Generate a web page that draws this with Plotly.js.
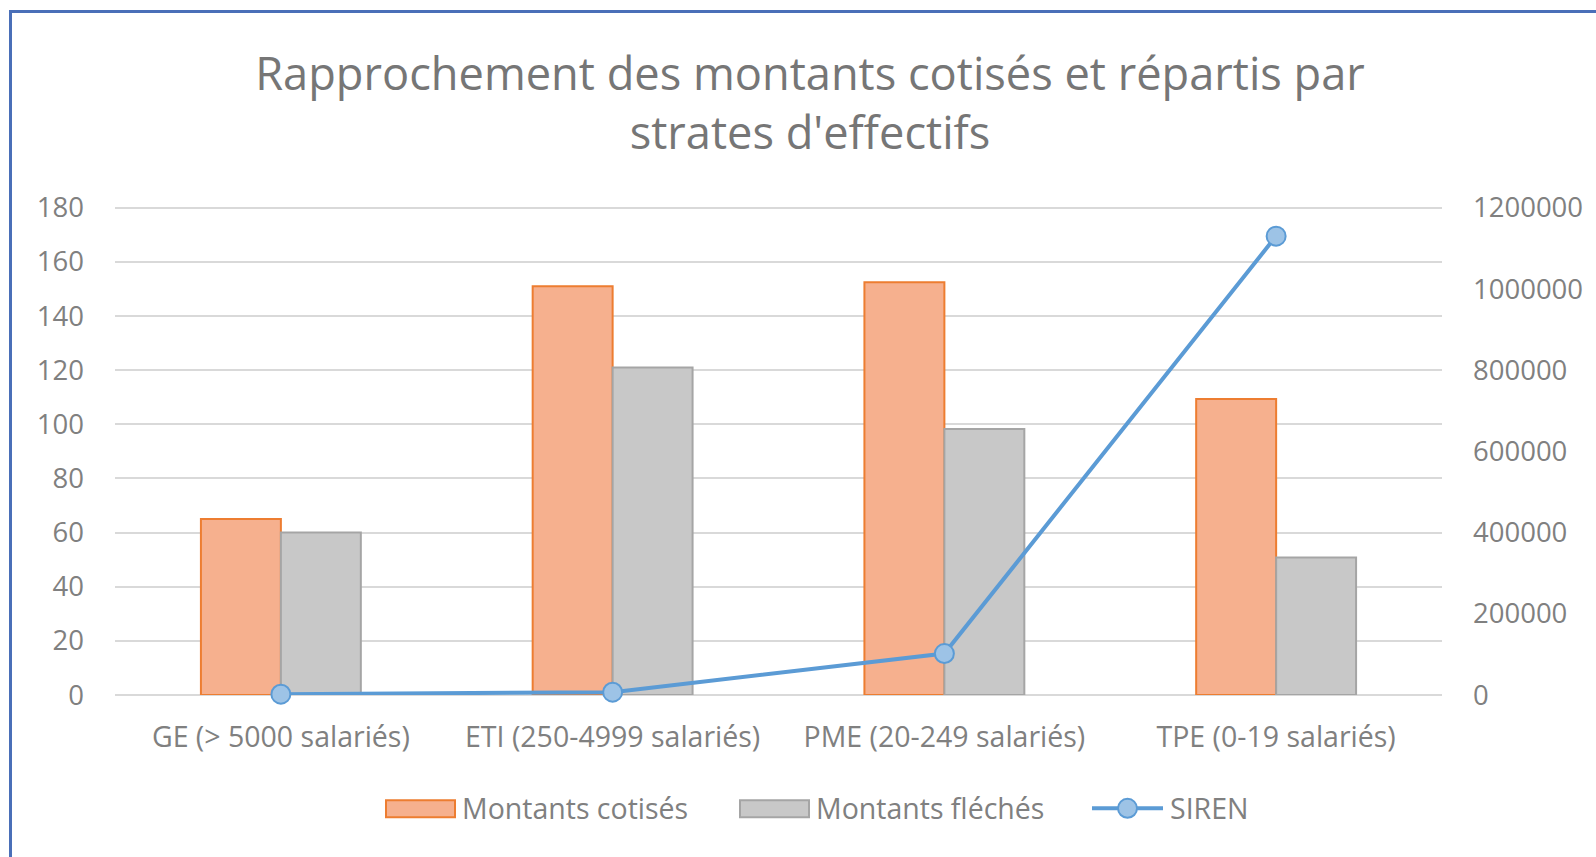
<!DOCTYPE html>
<html>
<head>
<meta charset="utf-8">
<script src="https://cdn.plot.ly/plotly-3.0.1.min.js"></script>
<style>
  html, body { margin:0; padding:0; background:#fff; overflow:hidden; }
  #frame { position:absolute; left:9px; top:10px; width:1700px; height:1000px; border-left:3px solid #4a6fb8; border-top:3px solid #4a6fb8; box-sizing:border-box; pointer-events:none; z-index:5; }
  #chart { position:absolute; left:0; top:0; width:1596px; height:857px; }
</style>
</head>
<body>
<div id="chart"></div>
<div id="frame"></div>
<script>
const categories = ["GE (> 5000 salariés)", "ETI (250-4999 salariés)", "PME (20-249 salariés)", "TPE (0-19 salariés)"];
const montantsCotises = [65, 151, 152.5, 109.3];
const montantsFleches = [60, 121, 98.3, 50.8];
const siren = [2000, 7000, 102000, 1130000];
const leftTicks = [0, 20, 40, 60, 80, 100, 120, 140, 160, 180];
const rightTicks = [0, 200000, 400000, 600000, 800000, 1000000, 1200000];
const seriesNames = ["Montants cotisés", "Montants fléchés", "SIREN"];

const W = 1596, H = 857;
const yMax = 181, y2Max = 1200000 * yMax / 180;
const ml = 115, mr = 154, mt = 204.6, mb = 161.5;
const pw = W - ml - mr, ph = H - mt - mb;
const px = x => (x - ml) / pw;       // page px -> paper x
const py = y => (H - mb - y) / ph;   // page px -> paper y

const grey = '#808080';
const tickFont = {family: 'Open Sans, sans-serif', size: 27.5, color: grey};
const catFont = {family: 'Open Sans, sans-serif', size: 28.5, color: grey};

const traces = [
  {type:'bar', name: seriesNames[0], x: categories, y: montantsCotises,
   marker:{color:'#f6b08e', line:{color:'#ed7d31', width:2}}, showlegend:false, hoverinfo:'y'},
  {type:'bar', name: seriesNames[1], x: categories, y: montantsFleches,
   marker:{color:'#c8c8c8', line:{color:'#a5a5a5', width:2}}, showlegend:false, hoverinfo:'y'},
  {type:'scatter', mode:'lines+markers', name: seriesNames[2], x: categories, y: siren, yaxis:'y2',
   line:{color:'#5b9bd5', width:4}, marker:{size:19, color:'#9dc3e6', line:{color:'#5b9bd5', width:2}},
   showlegend:false, hoverinfo:'y', cliponaxis:false}
];

// custom legend (Excel-like swatches)
const legY = 809;
const shapes = [
  {type:'rect', xref:'paper', yref:'paper', x0:px(386), x1:px(455), y0:py(818), y1:py(801),
   fillcolor:'#f6b08e', line:{color:'#ed7d31', width:2}},
  {type:'rect', xref:'paper', yref:'paper', x0:px(740), x1:px(809), y0:py(818), y1:py(801),
   fillcolor:'#c8c8c8', line:{color:'#a5a5a5', width:2}},
  {type:'line', xref:'paper', yref:'paper', x0:px(1092), x1:px(1163), y0:py(legY), y1:py(legY),
   line:{color:'#5b9bd5', width:4}},
  {type:'circle', xref:'paper', yref:'paper', x0:px(1118), x1:px(1137), y0:py(legY+9.5), y1:py(legY-9.5),
   fillcolor:'#9dc3e6', line:{color:'#5b9bd5', width:2}}
];
const legFont = {family:'Open Sans, sans-serif', size:28.5, color:grey};
const annotations = [
  {xref:'paper', yref:'paper', x:px(461), y:py(legY), text:seriesNames[0], showarrow:false, xanchor:'left', yanchor:'middle', font:legFont, borderpad:0},
  {xref:'paper', yref:'paper', x:px(815), y:py(legY), text:seriesNames[1], showarrow:false, xanchor:'left', yanchor:'middle', font:legFont, borderpad:0},
  {xref:'paper', yref:'paper', x:px(1169), y:py(legY), text:seriesNames[2], showarrow:false, xanchor:'left', yanchor:'middle', font:legFont, borderpad:0}
];

const layout = {
  width: W, height: H,
  margin: {l: ml, r: mr, t: mt, b: mb, pad: 0},
  paper_bgcolor: '#fff', plot_bgcolor: '#fff',
  font: {family: 'Open Sans, sans-serif', color: grey},
  title: {
    text: "Rapprochement des montants cotisés et répartis par<br>strates d'effectifs",
    font: {family: 'Open Sans, sans-serif', size: 45.2, color: '#767676'},
    x: 810 / W, xref: 'container', xanchor: 'center',
    y: 1 - 90 / H, yref: 'container', yanchor: 'middle'
  },
  barmode: 'group', bargap: 0.518, bargroupgap: 0,
  showlegend: false,
  xaxis: {
    type: 'category', tickfont: catFont, showgrid: false, zeroline: false, showline: false,
    ticks: '', ticklabelstandoff: 22, fixedrange: true
  },
  yaxis: {
    range: [0, yMax], tickvals: leftTicks, tickfont: tickFont,
    showgrid: true, gridcolor: '#d9d9d9', gridwidth: 2,
    zeroline: true, zerolinecolor: '#d9d9d9', zerolinewidth: 2,
    showline: false, ticks: '', ticklabelstandoff: 30, fixedrange: true
  },
  yaxis2: {
    range: [0, y2Max], tickvals: rightTicks, tickformat: 'd', tickfont: tickFont,
    overlaying: 'y', side: 'right', showgrid: false, zeroline: false, showline: false,
    ticks: '', ticklabelstandoff: 30, fixedrange: true
  },
  shapes: shapes,
  annotations: annotations
};

Plotly.newPlot('chart', traces, layout, {displayModeBar: false, staticPlot: true});
</script>
</body>
</html>
